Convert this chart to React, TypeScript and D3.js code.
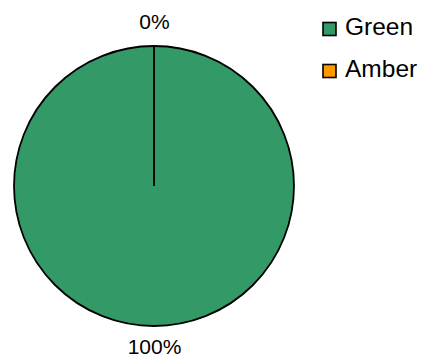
import React from "react";
import * as d3 from "d3";

const categories = ["Green", "Amber"];
const values = [100, 0];
const colors = ["#339966", "#FF9900"];
const labels = ["100%", "0%"];

export default function App() {
  const width = 431;
  const height = 359;
  const cx = 154;
  const cy = 186;
  const r = 140;
  const pie = d3.pie<number>().sort(null).value((d) => d)(values);
  const arc = d3.arc<d3.PieArcDatum<number>>().innerRadius(0).outerRadius(r);
  return (
    <svg
      width={width}
      height={height}
      style={{ position: "absolute", left: 0, top: 0, fontFamily: "Liberation Sans, Arial, sans-serif" }}
    >
      <rect width={width} height={height} fill="#fff" />
      <g transform={`translate(${cx},${cy})`}>
        {pie.map((p, i) => (
          <path key={i} d={arc(p) || ""} fill={colors[i]} stroke="#000" strokeWidth={1.8} />
        ))}
      </g>
      <text x={cx + 0.5} y={29} textAnchor="middle" fontSize={21} fill="#000">{labels[1]}</text>
      <text x={cx + 0.5} y={354} textAnchor="middle" fontSize={21} fill="#000">{labels[0]}</text>
      {categories.map((c, i) => (
        <g key={c} transform={`translate(0,${i * 42})`}>
          <rect x={323} y={22.5} width={13} height={13} fill={colors[i]} stroke="#000" strokeWidth={1.6} />
          <text x={345} y={35} fontSize={24.5} fill="#000">{c}</text>
        </g>
      ))}
    </svg>
  );
}
